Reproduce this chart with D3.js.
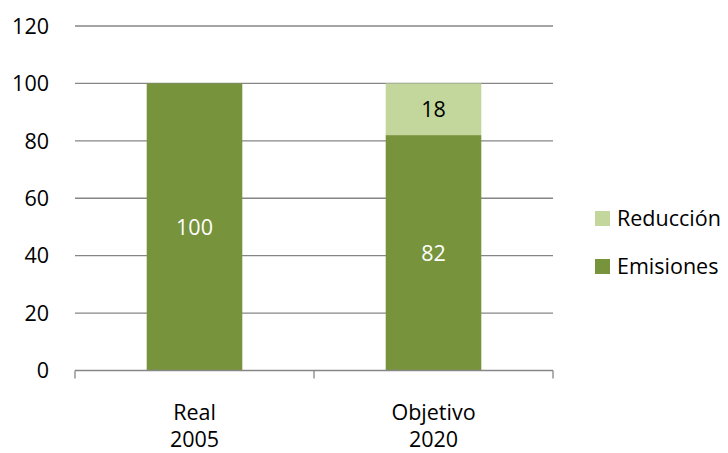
<!DOCTYPE html>
<html><head><meta charset="utf-8">
<script src="https://cdn.jsdelivr.net/npm/d3@7"></script>
<style>body{margin:0;background:#fff}svg{display:block}text{font-family:"Open Sans",Lato,sans-serif}</style>
</head><body><svg id="c" width="728" height="453"></svg>
<script>
const categories = [["Real","2005"],["Objetivo","2020"]];
const emisiones = [100, 82];
const reduccion = [0, 18];
const yTicks = [0,20,40,60,80,100,120];
const seriesNames = ["Reducción","Emisiones"];
const colors = {Emisiones:"#77933C", "Reducción":"#C3D69B"};

(function(){
const FS = 21.5;
const svg = d3.select("#c");
const pL=75, pR=553, pT=26, pB=370.5;
const x = d3.scaleBand().domain(d3.range(categories.length)).range([pL,pR]).paddingInner(0.6).paddingOuter(0.3);
const xb = d3.scaleBand().domain(d3.range(categories.length)).range([pL,pR]);
const y = d3.scaleLinear().domain([0,120]).range([pB,pT]);

// gridlines
svg.append("g").selectAll("line").data(yTicks.filter(d=>d>0)).join("line")
  .attr("x1",pL).attr("x2",pR).attr("y1",d=>y(d)).attr("y2",d=>y(d))
  .attr("stroke","#868686").attr("stroke-width",1.3);
// y labels
svg.append("g").selectAll("text").data(yTicks).join("text")
  .attr("x",49).attr("y",d=>y(d)).attr("dy","0.36em").attr("text-anchor","end")
  .attr("font-size",FS).attr("fill","#000").text(d=>d);

// bars
const g = svg.append("g");
categories.forEach((c,i)=>{
  g.append("rect").attr("x",x(i)).attr("width",x.bandwidth()).attr("y",y(emisiones[i])).attr("height",y(0)-y(emisiones[i])).attr("fill",colors.Emisiones);
  g.append("text").attr("x",x(i)+x.bandwidth()/2).attr("y",(y(emisiones[i])+y(0))/2).attr("dy","0.36em")
    .attr("text-anchor","middle").attr("font-size",FS).attr("fill","#fff").text(emisiones[i]);
  if(reduccion[i]>0){
    const top2 = emisiones[i]+reduccion[i];
    g.append("rect").attr("x",x(i)).attr("width",x.bandwidth()).attr("y",y(top2)).attr("height",y(emisiones[i])-y(top2)).attr("fill",colors["Reducción"]);
    g.append("text").attr("x",x(i)+x.bandwidth()/2).attr("y",(y(top2)+y(emisiones[i]))/2).attr("dy","0.36em")
      .attr("text-anchor","middle").attr("font-size",FS).attr("fill","#000").text(reduccion[i]);
  }
});

// x axis
svg.append("line").attr("x1",pL).attr("x2",pR).attr("y1",pB).attr("y2",pB).attr("stroke","#868686").attr("stroke-width",1.3);
const xt = [pL, ...d3.range(categories.length).map(i=>xb(i)+xb.bandwidth())];
svg.append("g").selectAll("line").data(xt).join("line")
  .attr("x1",d=>d).attr("x2",d=>d).attr("y1",pB).attr("y2",pB+8).attr("stroke","#868686").attr("stroke-width",1.3);
categories.forEach((c,i)=>{
  const t = svg.append("text").attr("text-anchor","middle").attr("font-size",FS).attr("fill","#000");
  c.forEach((line,j)=>t.append("tspan").attr("x",xb(i)+xb.bandwidth()/2).attr("y",420+j*27).text(line));
});

// legend
const lg = svg.append("g");
seriesNames.forEach((s,k)=>{
  const yy = 218.5 + k*48;
  lg.append("rect").attr("x",595).attr("y",yy-7.5).attr("width",15).attr("height",15).attr("fill",colors[s]);
  lg.append("text").attr("x",617).attr("y",yy).attr("dy","0.36em").attr("font-size",FS).attr("fill","#000").text(s);
});
})();
</script></body></html>
